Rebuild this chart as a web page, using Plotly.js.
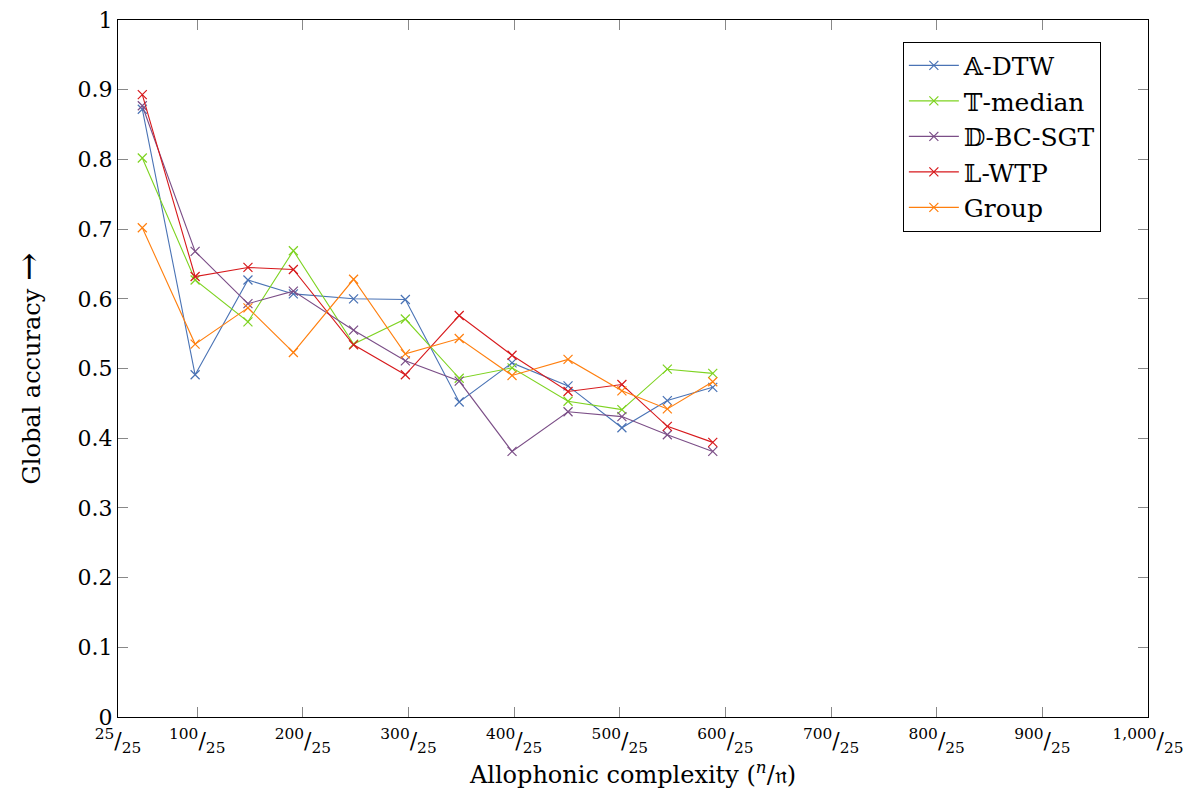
<!DOCTYPE html>
<html>
<head>
<meta charset="utf-8">
<script src="https://cdn.plot.ly/plotly-3.0.1.min.js"></script>
<style>html,body{margin:0;padding:0;background:#fff;}#chart{width:1189px;height:796px;}</style>
</head>
<body>
<div id="chart"></div>
<script>
// x values: number of allophones n (axis labels show n/25)
const complexity = [48, 98, 148, 191, 248, 297, 348, 398, 451, 502, 545, 588];

const seriesNames = ["𝔸-DTW", "𝕋-median", "𝔻-BC-SGT", "𝕃-WTP", "Group"];
const adtw    = [0.872, 0.491, 0.627, 0.607, 0.600, 0.599, 0.452, 0.508, 0.475, 0.415, 0.454, 0.473];
const tmedian = [0.802, 0.627, 0.567, 0.669, 0.535, 0.571, 0.486, 0.501, 0.453, 0.441, 0.499, 0.493];
const dbcsgt  = [0.877, 0.668, 0.593, 0.611, 0.555, 0.511, 0.482, 0.381, 0.438, 0.431, 0.405, 0.381];
const lwtp    = [0.893, 0.632, 0.645, 0.642, 0.534, 0.491, 0.576, 0.519, 0.467, 0.477, 0.417, 0.394];
const group   = [0.702, 0.535, 0.587, 0.523, 0.628, 0.521, 0.543, 0.490, 0.513, 0.468, 0.442, 0.481];

const xTickVals = [25, 100, 200, 300, 400, 500, 600, 700, 800, 900, 1000];
const xTickNums = ["25", "100", "200", "300", "400", "500", "600", "700", "800", "900", "1,000"];
const yTickVals = [0, 0.1, 0.2, 0.3, 0.4, 0.5, 0.6, 0.7, 0.8, 0.9, 1];
const yTickText = ["0", "0.1", "0.2", "0.3", "0.4", "0.5", "0.6", "0.7", "0.8", "0.9", "1"];

const colors = ["#4a73b5", "#7ed321", "#7b4e87", "#d7191c", "#ff7f0e"];
const allSeries = [adtw, tmedian, dbcsgt, lwtp, group];

const FONT = "'DejaVu Serif', 'Liberation Serif', serif";

const traces = allSeries.map((ys, i) => ({
  x: complexity,
  y: ys,
  name: seriesNames[i],
  type: "scatter",
  mode: "lines+markers",
  line: {color: colors[i], width: 1.1},
  marker: {symbol: "x-thin", size: 9, color: colors[i], line: {width: 1.2, color: colors[i]}}
}));

const xTickText = xTickNums.map(n => "<sup>" + n + "</sup>/<sub>25</sub>");

const layout = {
  width: 1189,
  height: 796,
  margin: {l: 118, r: 41, t: 20, b: 79},
  paper_bgcolor: "#fff",
  plot_bgcolor: "#fff",
  font: {family: FONT, color: "#000", size: 22},
  showlegend: true,
  legend: {
    x: 0.762, y: 0.969, xanchor: "left", yanchor: "top",
    bordercolor: "#000", borderwidth: 1, bgcolor: "#fff",
    font: {family: FONT, size: 25, color: "#000"},
    itemwidth: 50,
    tracegroupgap: 0
  },
  xaxis: {
    range: [25, 1000],
    tickmode: "array",
    tickvals: xTickVals,
    ticktext: xTickText,
    ticks: "inside",
    ticklen: 10,
    tickcolor: "#888",
    tickwidth: 1,
    showgrid: false,
    zeroline: false,
    showline: true,
    linecolor: "#000",
    linewidth: 1,
    mirror: "allticks",
    tickfont: {family: FONT, size: 22, color: "#000"},
    ticklabelstandoff: 4,
    automargin: false,
    title: {text: "Allophonic complexity (<sup><i>n</i></sup>/𝔫)", font: {family: FONT, size: 24, color: "#000"}, standoff: 6}
  },
  yaxis: {
    range: [0, 1],
    tickmode: "array",
    tickvals: yTickVals,
    ticktext: yTickText,
    ticks: "inside",
    ticklen: 10,
    tickcolor: "#888",
    tickwidth: 1,
    showgrid: false,
    zeroline: false,
    showline: true,
    linecolor: "#000",
    linewidth: 1,
    mirror: "allticks",
    tickfont: {family: FONT, size: 22, color: "#000"},
    automargin: false,
    title: {text: "Global accuracy <span style=\"font-size:34px\">→</span>", font: {family: FONT, size: 24, color: "#000"}, standoff: 30}
  }
};

Plotly.newPlot("chart", traces, layout, {staticPlot: true, displayModeBar: false});
</script>
</body>
</html>
